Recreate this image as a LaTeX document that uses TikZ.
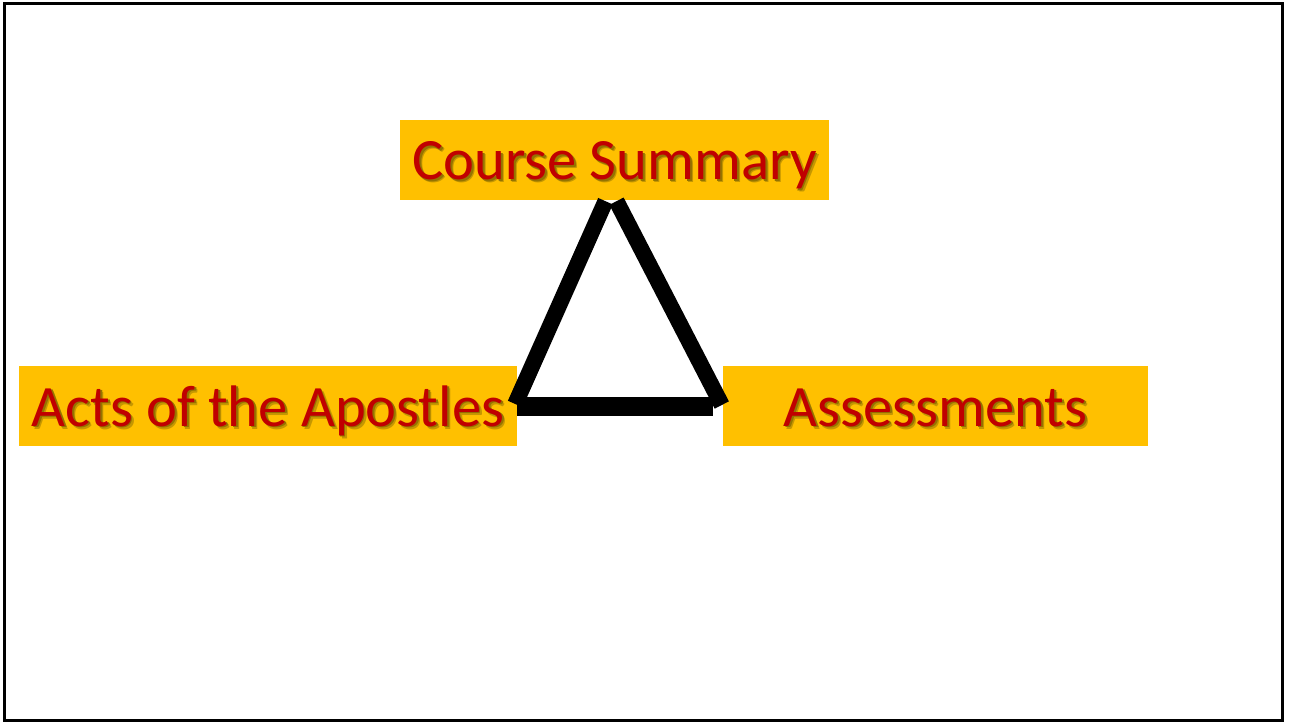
\documentclass[tikz,border=0pt]{standalone}
\usepackage{fontspec}
\setmainfont{Carlito}
\usepackage{xcolor}
\usepackage{tikz}
\usetikzlibrary{calc,positioning}
\definecolor{topicfill}{HTML}{FFC000}
\definecolor{topictext}{HTML}{C00000}
\definecolor{topicshade}{HTML}{5A4A00}
% text with a soft drop shadow (two shifted copies under the letters)
\newcommand{\shadetext}[1]{%
  \makebox[0pt][l]{\hspace{3pt}\raisebox{-3pt}{\textcolor{topicshade!35!topicfill}{#1}}}%
  \makebox[0pt][l]{\hspace{1.8pt}\raisebox{-1.8pt}{\textcolor{topicshade!65!topicfill}{#1}}}#1}
\tikzset{
  topic/.style={rectangle, fill=topicfill, inner sep=0pt, minimum height=80pt,
                text=topictext, font=\fontsize{58.6}{60}\selectfont,
                text height=52pt, text depth=12pt},
  link/.style={line width=16pt, line cap=butt},
  frame/.style={line width=3pt}
}

\begin{document}
\begin{tikzpicture}[x=1pt,y=-1pt]
  \useasboundingbox (0,0) rectangle (1291,722);
  \draw[frame] (4,4) rectangle (1282,720);
  \node[topic, minimum width=429pt] (summary) at (614.5,160) {\shadetext{Course Summary}};
  \node[topic, minimum width=498pt] (acts) at (268,406) {\shadetext{Acts of the Apostles}};
  \node[topic, minimum width=425pt] (assess) at (935.5,406) {\shadetext{Assessments}};
  \draw[link] ([xshift=-9pt,yshift=-1pt]summary.south) -- ([xshift=-2pt,yshift=2pt]acts.east);
  \draw[link] ([xshift=2pt,yshift=-1pt]summary.south) -- ([xshift=-1pt,yshift=1pt]assess.west);
  \draw[link, line width=19pt] (acts.east) -- ([xshift=-10pt]assess.west);
\end{tikzpicture}
\end{document}
